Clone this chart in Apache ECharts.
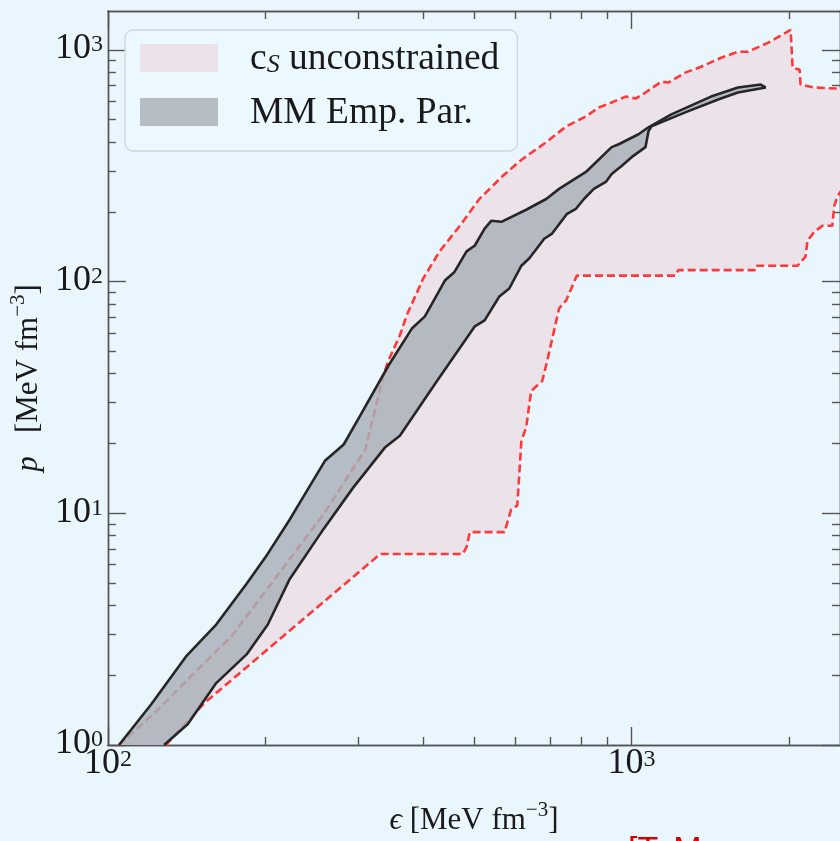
<!DOCTYPE html>
<html>
<head>
<meta charset="utf-8">
<script src="https://cdn.jsdelivr.net/npm/echarts@6/dist/echarts.min.js"></script>
<style>
html,body{margin:0;padding:0;background:#eaf6fe;}
#c{width:840px;height:841px;}
</style>
</head>
<body>
<div id="c"></div>
<script>
// ---------------- data ----------------
const seriesNames = ['cS unconstrained', 'MM Emp. Par.'];

const xMajorTicks = [100, 1000];
const xMinorTicks = [200, 300, 400, 500, 600, 700, 800, 900, 2000];
const yMajorTicks = [1, 10, 100, 1000];
const yMinorTicks = [2, 3, 4, 5, 6, 7, 8, 9, 20, 30, 40, 50, 60, 70, 80, 90, 200, 300, 400, 500, 600, 700, 800, 900];

// c_S unconstrained band (red dashed boundaries)
const csUpperE = [105, 125, 144, 172, 205, 258, 310, 336, 343, 361, 372, 400, 430, 470, 512, 567, 618, 687, 750, 818, 866, 916, 974, 1018, 1063, 1140, 1175, 1266, 1357, 1482, 1596, 1667, 1820, 2012, 2030, 2093, 2102, 2234, 2471, 2816];
const csUpperP = [1.0, 1.43, 1.98, 2.94, 4.96, 9.90, 18.8, 39.5, 45.4, 58.6, 71.5, 103, 135, 174, 227, 285, 337, 399, 467, 516, 564, 592, 628, 616, 654, 729, 722, 797, 845, 924, 980, 980, 1071, 1218, 837, 821, 708, 687, 680, 680];
const csLowerE = [129, 153, 331, 476, 484, 491, 572, 589, 605, 616, 629, 643, 675, 690, 727, 750, 786, 1212, 1228, 1719, 1727, 2075, 2148, 2167, 2234, 2314, 2417, 2438, 2471, 2816];
const csLowerP = [1.0, 1.52, 6.67, 6.67, 7.15, 8.29, 8.29, 10.4, 10.8, 20.6, 23.4, 33.7, 37.2, 45.4, 76.6, 82.9, 106, 106, 112, 112, 117, 117, 128, 150, 164, 174, 174, 212, 232, 372];

// MM Emp. Par. band (black boundaries)
const mmUpperE = [105, 121, 141, 161, 184, 200, 222, 233, 260, 282, 303, 343, 381, 403, 440, 459, 484, 502, 524, 540, 564, 629, 687, 727, 818, 916, 945, 1031, 1077, 1191, 1418, 1596, 1765, 1804];
const mmUpperP = [1.0, 1.50, 2.41, 3.31, 4.96, 6.47, 9.33, 11.2, 16.9, 19.8, 26.3, 43.2, 62.9, 70.7, 101, 110, 135, 143, 169, 183, 181, 204, 227, 251, 297, 380, 391, 432, 463, 526, 628, 687, 708, 687];
const mmLowerE = [128, 142, 161, 184, 202, 222, 258, 294, 338, 361, 425, 502, 524, 559, 584, 616, 638, 681, 705, 753, 783, 811, 847, 893, 916, 957, 1000, 1063, 1077, 1091, 1266, 1463, 1596, 1804];
const mmLowerP = [1.0, 1.23, 1.85, 2.46, 3.31, 5.16, 8.54, 12.9, 19.2, 21.6, 37.2, 64.1, 68.0, 86.2, 93.3, 117, 126, 153, 161, 196, 206, 227, 251, 269, 291, 315, 344, 380, 445, 467, 537, 610, 654, 687];

// ---------------- helpers ----------------
const SERIF = '"Liberation Serif", "DejaVu Serif", serif';
const zip = (E, P) => E.map((e, i) => [e, P[i]]);

const tickRich = {
  b: { fontSize: 36, lineHeight: 34, fontFamily: SERIF, color: '#1a1a1a', verticalAlign: 'bottom' },
  s: { fontSize: 24, lineHeight: 24, fontFamily: SERIF, color: '#1a1a1a', verticalAlign: 'top' }
};
const nameRich = {
  i: { fontSize: 31, fontFamily: SERIF, fontStyle: 'italic', color: '#1a1a1a', lineHeight: 36, verticalAlign: 'bottom' },
  n: { fontSize: 31, fontFamily: SERIF, color: '#1a1a1a', lineHeight: 36, verticalAlign: 'bottom' },
  s: { fontSize: 21, fontFamily: SERIF, color: '#1a1a1a', lineHeight: 20, verticalAlign: 'top' }
};
const powLabel = v => '{b|10}{s|' + Math.round(Math.log10(v)) + '}';

const AX_COLOR = '#555';
function makeAxis(opts) {
  const base = {
    type: 'log',
    logBase: 10,
    min: opts.min,
    max: opts.max,
    position: opts.position,
    axisLine: { show: true, onZero: false, lineStyle: { color: AX_COLOR, width: 1.4 } },
    axisTick: { show: true, inside: true, length: opts.len, customValues: opts.ticks, lineStyle: { color: AX_COLOR, width: 1.4 } },
    axisLabel: { show: false },
    splitLine: { show: false },
    minorTick: { show: false },
    minorSplitLine: { show: false }
  };
  if (opts.labels) {
    base.axisLabel = {
      show: true,
      customValues: opts.ticks,
      formatter: powLabel,
      rich: tickRich,
      margin: opts.margin
    };
  }
  if (opts.name) {
    base.name = opts.name;
    base.nameLocation = 'middle';
    base.nameGap = opts.nameGap;
    base.nameTextStyle = { rich: nameRich };
  }
  return base;
}

const X_MIN = 100, X_MAX = 2500, Y_MIN = 1, Y_MAX = 1470;

const xAxes = [
  makeAxis({ min: X_MIN, max: X_MAX, position: 'bottom', len: 18, ticks: xMajorTicks, labels: true, margin: 3,
             name: '{i|ϵ}{n| [MeV fm}{s|−3}{n|]}', nameGap: 55 }),
  makeAxis({ min: X_MIN, max: X_MAX, position: 'bottom', len: 8, ticks: xMinorTicks }),
  makeAxis({ min: X_MIN, max: X_MAX, position: 'top', len: 18, ticks: xMajorTicks }),
  makeAxis({ min: X_MIN, max: X_MAX, position: 'top', len: 8, ticks: xMinorTicks })
];
const yAxes = [
  makeAxis({ min: Y_MIN, max: Y_MAX, position: 'left', len: 18, ticks: yMajorTicks, labels: true, margin: 5,
             name: '{i|p}{n|   [MeV fm}{s|−3}{n|]}', nameGap: 54 }),
  makeAxis({ min: Y_MIN, max: Y_MAX, position: 'left', len: 8, ticks: yMinorTicks }),
  makeAxis({ min: Y_MIN, max: Y_MAX, position: 'right', len: 18, ticks: yMajorTicks }),
  makeAxis({ min: Y_MIN, max: Y_MAX, position: 'right', len: 8, ticks: yMinorTicks })
];

function bandRenderer(E1, P1, E2, P2) {
  return function (params, api) {
    if (params.dataIndex !== 0) return null;
    const pts = [];
    for (let i = 0; i < E1.length; i++) pts.push(api.coord([E1[i], P1[i]]));
    for (let i = E2.length - 1; i >= 0; i--) pts.push(api.coord([E2[i], P2[i]]));
    return { type: 'polygon', shape: { points: pts }, style: { fill: api.visual('color') } };
  };
}

const PINK = '#ece3ea';
const GRAY = 'rgba(168,176,184,0.82)';
const RED = '#ff3838';
const BLACK = '#262626';

function dashedLine(E, P, z) {
  return {
    type: 'line', data: zip(E, P), xAxisIndex: 0, yAxisIndex: 0, z: z,
    symbol: 'none', showSymbol: false, silent: true,
    lineStyle: { color: RED, width: 2.6, type: [8, 4] }
  };
}
function solidLine(E, P, z) {
  return {
    type: 'line', data: zip(E, P), xAxisIndex: 0, yAxisIndex: 0, z: z,
    symbol: 'none', showSymbol: false, silent: true,
    lineStyle: { color: BLACK, width: 2.6 }
  };
}

const legendRich = {
  g: { width: 27 },
  t: { fontSize: 37.5, fontFamily: SERIF, color: '#1a1a1a', lineHeight: 40, verticalAlign: 'bottom' },
  sub: { fontSize: 26, fontFamily: SERIF, fontStyle: 'italic', color: '#1a1a1a', lineHeight: 20, verticalAlign: 'bottom' }
};

const option = {
  animation: false,
  backgroundColor: '#eaf6fe',
  grid: { left: 106, top: 11, right: -3, bottom: 93, containLabel: false },
  xAxis: xAxes,
  yAxis: yAxes,
  legend: {
    data: seriesNames,
    orient: 'vertical',
    left: 125, top: 30,
    icon: 'rect',
    itemWidth: 78, itemHeight: 28, itemGap: 16,
    padding: [10, 18, 19, 15],
    backgroundColor: 'rgba(236,248,255,0.85)',
    borderColor: '#ccd5dc', borderWidth: 1.3, borderRadius: 8,
    selectedMode: false,
    formatter: function (name) {
      if (name === seriesNames[0]) return '{g|}{t|c}{sub|S}{t| unconstrained}';
      return '{g|}{t|' + name + '}';
    },
    textStyle: { rich: legendRich }
  },
  graphic: [
    { type: 'text', left: 628, top: 834, silent: true,
      style: { text: '[T. M', fill: '#d40000', font: '34px "Liberation Sans", sans-serif' } }
  ],
  series: [
    {
      name: seriesNames[0], type: 'custom', xAxisIndex: 0, yAxisIndex: 0, z: 1,
      itemStyle: { color: PINK },
      renderItem: bandRenderer(csUpperE, csUpperP, csLowerE, csLowerP),
      data: [[csUpperE[0], csUpperP[0]]]
    },
    dashedLine(csUpperE, csUpperP, 2),
    dashedLine(csLowerE, csLowerP, 2),
    {
      name: seriesNames[1], type: 'custom', xAxisIndex: 0, yAxisIndex: 0, z: 3,
      itemStyle: { color: GRAY },
      renderItem: bandRenderer(mmUpperE, mmUpperP, mmLowerE, mmLowerP),
      data: [[mmUpperE[0], mmUpperP[0]]]
    },
    solidLine(mmUpperE, mmUpperP, 4),
    solidLine(mmLowerE, mmLowerP, 4)
  ]
};

const chart = echarts.init(document.getElementById('c'), null, { renderer: 'canvas' });
chart.setOption(option);
</script>
</body>
</html>
